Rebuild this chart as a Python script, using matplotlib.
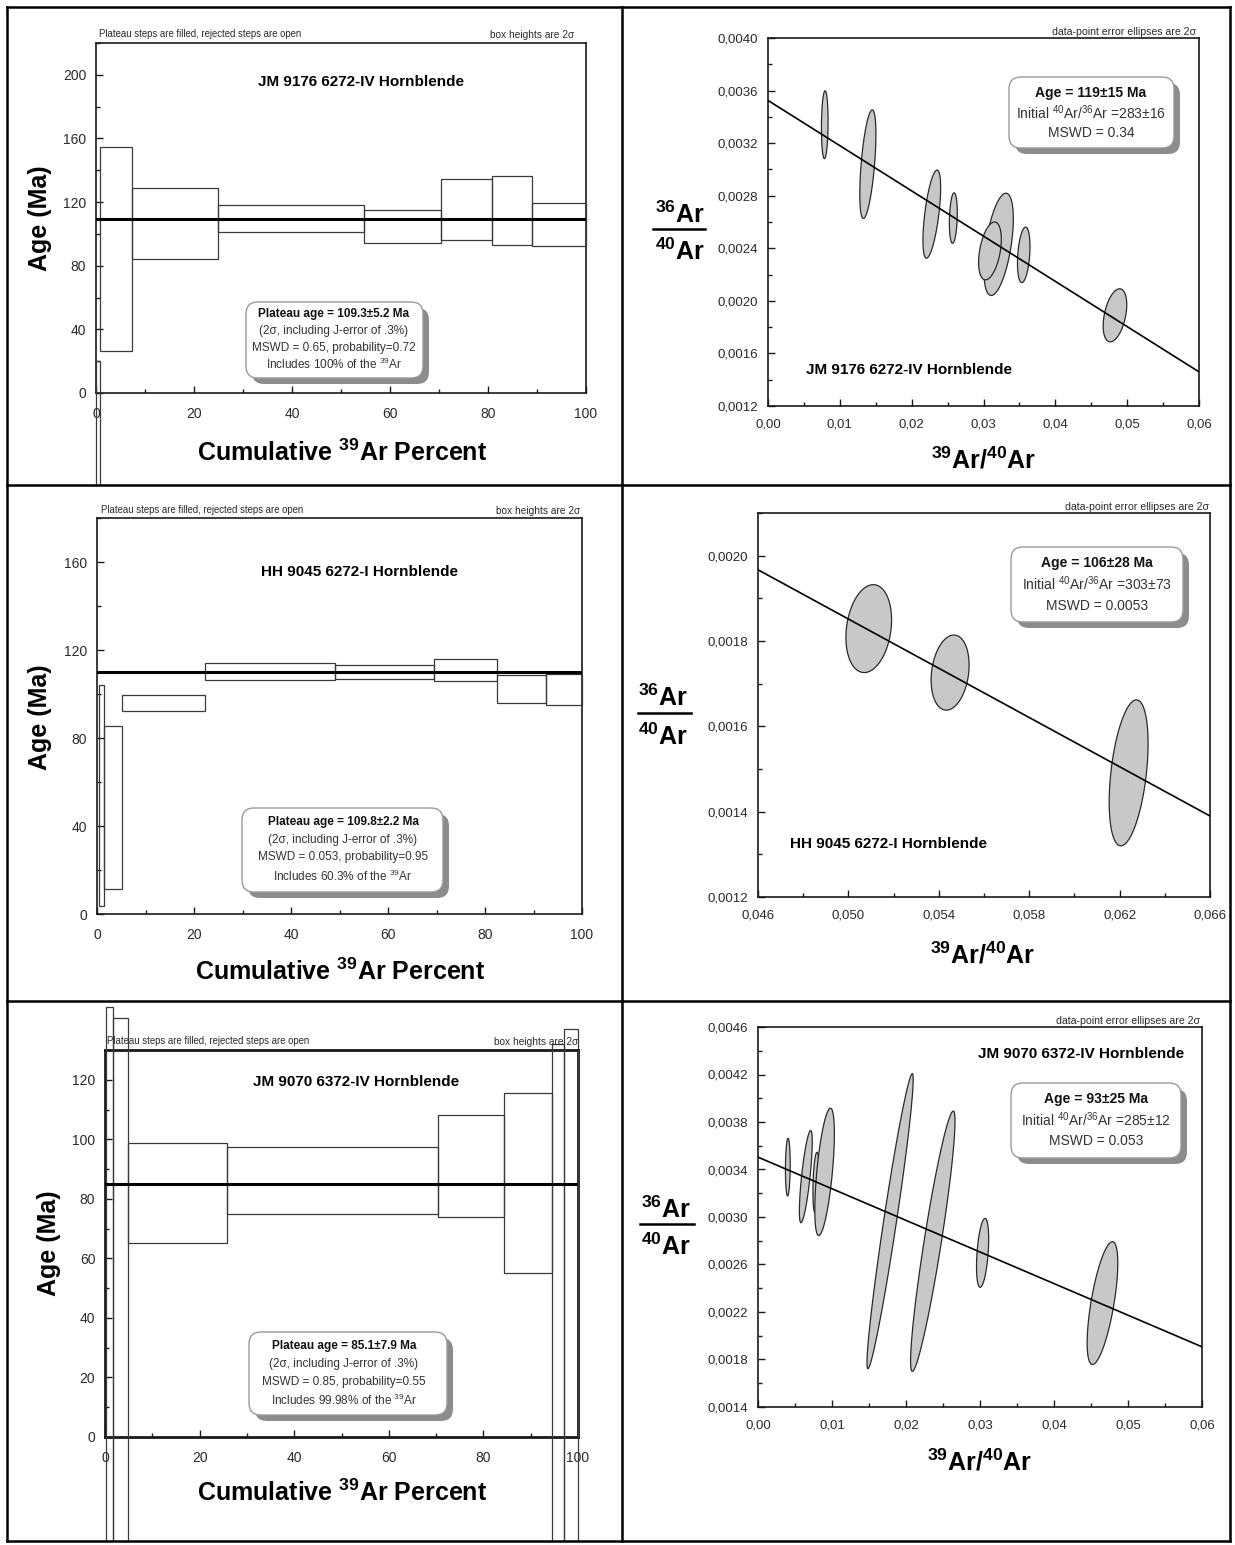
import numpy as np
import matplotlib
matplotlib.use('Agg')
import matplotlib.pyplot as plt
from matplotlib.patches import Rectangle, FancyBboxPatch
from matplotlib.lines import Line2D
from matplotlib.ticker import MultipleLocator, FuncFormatter

plt.rcParams['font.family'] = ['Liberation Sans', 'DejaVu Sans']
plt.rcParams['mathtext.default'] = 'regular'

# ============ data: step heating spectra (edges in cumulative %, ages in Ma) ============
s1_edges = [0, 0.8, 7.4, 24.8, 54.7, 70.5, 80.9, 88.9, 100]
s1_lo = [-80, 26.4, 84.3, 101.5, 94.1, 96.2, 93.1, 92.7]
s1_hi = [20, 154.4, 128.7, 118.0, 115.3, 134.3, 136.4, 119.5]
s1_plateau = 109.3

s3_edges = [0.4, 1.4, 5.1, 22.3, 49.1, 69.4, 82.4, 92.6, 100]
s3_lo = [3.6, 11.2, 92.4, 106.4, 106.9, 105.8, 95.9, 94.9]
s3_hi = [104.3, 85.6, 99.7, 114.2, 113.1, 115.7, 108.6, 109.1]
s3_plateau = 109.8

s5_edges = [0.2, 1.7, 4.8, 25.7, 70.5, 84.3, 94.4, 97.1, 100]
s5_lo = [-60, -60, 65.3, 75.0, 73.9, 55.0, -60, -60]
s5_hi = [144.5, 140.6, 98.8, 97.3, 108.1, 115.7, 132, 137]
s5_plateau = 85.1

# ============ data: isochron ellipses (centre, half widths, correlation) ============
i2_cx = [0.0079, 0.0139, 0.0228, 0.0258, 0.0321, 0.0309, 0.0356, 0.0483]
i2_cy = [0.00334, 0.00304, 0.00266, 0.00263, 0.00243, 0.00238, 0.00235, 0.00189]
i2_sx = [0.00046, 0.00112, 0.00123, 0.00055, 0.00205, 0.00158, 0.00087, 0.00164]
i2_sy = [0.000258, 0.000413, 0.000335, 0.000192, 0.000389, 0.00022, 0.000211, 0.000202]
i2_rho = [0.1, 0.55, 0.6, 0.2, 0.5, 0.4, 0.3, 0.4]
i2_line = [0.003525, -0.03442]   # intercept, slope

i4_cx = [0.0509, 0.0545, 0.0624]
i4_cy = [0.001829, 0.001726, 0.001491]
i4_sx = [0.00101, 0.00084, 0.00086]
i4_sy = [0.000103, 0.000088, 0.000171]
i4_rho = [0.2, 0.2, 0.4]
i4_line = [0.003294, -0.02885]

i6_cx = [0.00403, 0.00646, 0.00784, 0.0090, 0.01785, 0.02362, 0.03035, 0.04655]
i6_cy = [0.00342, 0.00334, 0.00329, 0.00338, 0.002965, 0.002796, 0.002698, 0.002275]
i6_sx = [0.00032, 0.00087, 0.00042, 0.00132, 0.00312, 0.0030, 0.00082, 0.00207]
i6_sy = [0.000242, 0.000388, 0.000255, 0.000536, 0.001242, 0.001096, 0.00029, 0.000517]
i6_rho = [0.1, 0.75, 0.3, 0.6, 0.96, 0.92, 0.4, 0.65]
i6_line = [0.003504, -0.02662]

W, H = 1235, 1545
fig = plt.figure(figsize=(W / 100, H / 100), dpi=100)


# pixel helpers (top-left origin like the picture)
def fx(px):
    return px / W


def fy(py):
    return 1 - py / H


def rect_px(l, t, r, b):
    return [fx(l), fy(b), fx(r) - fx(l), fy(t) - fy(b)]


def cell_clip(l, t, r, b):
    return Rectangle((fx(l), fy(b)), fx(r) - fx(l), fy(t) - fy(b), transform=fig.transFigure)


def style_axes(ax, spine_w=1.2):
    for s in ['left', 'bottom', 'top', 'right']:
        ax.spines[s].set_linewidth(spine_w)
        ax.spines[s].set_color('#1a1a1a')
    ax.tick_params(which='both', direction='in', top=False, right=False,
                   colors='#1a1a1a', labelcolor='#2a2a2a', width=1)
    ax.tick_params(which='major', length=5)
    ax.tick_params(which='minor', length=3)


def info_box(l, t, r, b, lines, ys, cx, size):
    # grey shadow then white rounded box
    off = 6
    kw = dict(boxstyle='round,pad=0,rounding_size=%f' % (12 / W), mutation_aspect=W / H,
              transform=fig.transFigure)
    sh = FancyBboxPatch((fx(l + off), fy(b + off)), fx(r) - fx(l), fy(t) - fy(b),
                        fc='#8c8c8c', ec='none', **kw)
    bx = FancyBboxPatch((fx(l), fy(b)), fx(r) - fx(l), fy(t) - fy(b),
                        fc='white', ec='#9a9a9a', lw=1.0, **kw)
    fig.add_artist(sh)
    fig.add_artist(bx)
    for i, (s, y) in enumerate(zip(lines, ys)):
        fig.text(fx(cx), fy(y), s, ha='center', va='center', fontsize=size,
                 fontweight='bold' if i == 0 else 'normal',
                 color='#111111' if i == 0 else '#333333')


# ============ age spectrum panels ============
def age_panel(pos, cell, edges, lo, hi, plateau, ylim, ymaj, ymin, spine_w=1.2):
    ax = fig.add_axes(rect_px(*pos))
    for i in range(len(lo)):
        r = Rectangle((edges[i], lo[i]), edges[i + 1] - edges[i], hi[i] - lo[i],
                      fill=False, ec='#3a3a3a', lw=0.9, zorder=3)
        ax.add_patch(r)
        r.set_clip_path(cell_clip(*cell))
    ax.axhline(plateau, color='black', lw=2.2, zorder=4)
    ax.set_xlim(0, 100)
    ax.set_ylim(*ylim)
    ax.xaxis.set_major_locator(MultipleLocator(20))
    ax.xaxis.set_minor_locator(MultipleLocator(10))
    ax.yaxis.set_major_locator(MultipleLocator(ymaj))
    ax.yaxis.set_minor_locator(MultipleLocator(ymin))
    style_axes(ax, spine_w)
    ax.tick_params(axis='y', pad=7, labelsize=10)
    ax.tick_params(axis='x', pad=10, labelsize=10)
    return ax


def age_texts(hl, hr, title, tpos, ylab, xlab):
    fig.text(fx(hl[0]), fy(hl[1]), 'Plateau steps are filled, rejected steps are open',
             fontsize=6.9, color='#2a2a2a', va='center', ha='left')
    fig.text(fx(hr[0]), fy(hr[1]), 'box heights are 2σ',
             fontsize=7.3, color='#2a2a2a', va='center', ha='right')
    fig.text(fx(tpos[0]), fy(tpos[1]), title, fontsize=11, fontweight='bold',
             ha='center', va='center')
    fig.text(fx(ylab[0]), fy(ylab[1]), 'Age (Ma)', fontsize=18, fontweight='bold',
             rotation=90, ha='center', va='center')
    fig.text(fx(xlab[0]), fy(xlab[1]), 'Cumulative $^{39}$Ar Percent', fontsize=18,
             fontweight='bold', ha='center', va='center')


def plateau_lines(age, mswd, prob, incl):
    return ['Plateau age = %s Ma' % age,
            '(2σ, including J-error of .3%)',
            'MSWD = %s, probability=%s' % (mswd, prob),
            'Includes %s of the $^{39}$Ar' % incl]


# ============ isochron panels ============
def iso_panel(pos, xlim, ylim, xmaj, xmin, ymaj, ymin, xdec, cx, cy, sx, sy, rho, line):
    ax = fig.add_axes(rect_px(*pos))
    t = np.linspace(0, 2 * np.pi, 240)
    for i in range(len(cx)):
        xs = cx[i] + sx[i] * np.cos(t)
        ys = cy[i] + sy[i] * (rho[i] * np.cos(t) + np.sqrt(1 - rho[i] ** 2) * np.sin(t))
        ax.fill(xs, ys, fc='#c8c8c8', ec='#2a2a2a', lw=0.9, zorder=2)
    xl = np.array(xlim)
    ax.plot(xl, line[0] + line[1] * xl, color='black', lw=1.2, zorder=3)
    ax.set_xlim(*xlim)
    ax.set_ylim(*ylim)
    # ticks start at the lower axis limit
    ax.xaxis.set_major_locator(MultipleLocator(xmaj, offset=xlim[0] % xmaj))
    ax.xaxis.set_minor_locator(MultipleLocator(xmin, offset=xlim[0] % xmin))
    ax.yaxis.set_major_locator(MultipleLocator(ymaj, offset=round(ylim[0] % ymaj, 6)))
    ax.yaxis.set_minor_locator(MultipleLocator(ymin, offset=round(ylim[0] % ymin, 6)))
    ax.xaxis.set_major_formatter(FuncFormatter(lambda v, p: ('%.*f' % (xdec, v)).replace('.', ',')))
    ax.yaxis.set_major_formatter(FuncFormatter(lambda v, p: ('%.4f' % v).replace('.', ',')))
    style_axes(ax)
    ax.tick_params(axis='y', pad=7, labelsize=9.5)
    ax.tick_params(axis='x', pad=9, labelsize=9.5)
    return ax


def iso_texts(hr, label, lpos, lha, num, frac_line, den, xlab):
    fig.text(fx(hr[0]), fy(hr[1]), 'data-point error ellipses are 2σ',
             fontsize=7.6, color='#2a2a2a', va='center', ha='right')
    fig.text(fx(lpos[0]), fy(lpos[1]), label, fontsize=11, fontweight='bold',
             ha=lha, va='center')
    fig.text(fx(num[0]), fy(num[1]), '$^{36}$Ar', fontsize=18, fontweight='bold',
             ha='center', va='center')
    fig.text(fx(den[0]), fy(den[1]), '$^{40}$Ar', fontsize=18, fontweight='bold',
             ha='center', va='center')
    fig.add_artist(Line2D([fx(frac_line[0]), fx(frac_line[1])], [fy(frac_line[2])] * 2,
                          color='black', lw=1.8, transform=fig.transFigure))
    fig.text(fx(xlab[0]), fy(xlab[1]), '$^{39}$Ar/$^{40}$Ar', fontsize=18,
             fontweight='bold', ha='center', va='center')


def iso_lines(age, r0, mswd):
    return ['Age = %s Ma' % age,
            'Initial $^{40}$Ar/$^{36}$Ar =%s' % r0,
            'MSWD = %s' % mswd]


# ----- row 1 -----
age_panel((96, 43, 586, 393), (7, 7, 622, 485), s1_edges, s1_lo, s1_hi, s1_plateau,
          (0, 220), 40, 20)
age_texts((99, 34), (574, 35), 'JM 9176 6272-IV Hornblende', (361, 82), (40, 218), (342, 453))
info_box(246, 302, 423, 378, plateau_lines('109.3±5.2', '0.65', '0.72', '100%'),
         [314, 331, 348, 364], 334, 8.5)

iso_panel((768, 38, 1199, 406), (0, 0.06), (0.0012, 0.0040), 0.01, 0.005, 0.0004, 0.0002, 2,
          i2_cx, i2_cy, i2_sx, i2_sy, i2_rho, i2_line)
iso_texts((1196, 32), 'JM 9176 6272-IV Hornblende', (806, 370), 'left',
          (680, 215), (653, 705, 229), (680, 252), (983, 460))
info_box(1009, 77, 1174, 148, iso_lines('119±15', '283±16', '0.34'), [93, 113, 133], 1091, 10)

# ----- row 2 -----
age_panel((97, 518, 582, 914), (7, 485, 622, 1001), s3_edges, s3_lo, s3_hi, s3_plateau,
          (0, 180), 40, 20)
age_texts((101, 510), (580, 511), 'HH 9045 6272-I Hornblende', (360, 572), (40, 717), (340, 972))
info_box(242, 808, 443, 892, plateau_lines('109.8±2.2', '0.053', '0.95', '60.3%'),
         [822, 840, 857, 876], 343, 8.5)

iso_panel((758, 513, 1210, 897), (0.046, 0.066), (0.0012, 0.0021), 0.004, 0.002, 0.0002, 0.0001, 3,
          i4_cx, i4_cy, i4_sx, i4_sy, i4_rho, i4_line)
iso_texts((1209, 507), 'HH 9045 6272-I Hornblende', (790, 844), 'left',
          (663, 698), (638, 691, 713), (663, 737), (982, 955))
info_box(1011, 547, 1183, 622, iso_lines('106±28', '303±73', '0.0053'), [563, 584, 606], 1097, 10)

# ----- row 3 -----
age_panel((105, 1050, 578, 1437), (7, 1001, 622, 1541), s5_edges, s5_lo, s5_hi, s5_plateau,
          (0, 130), 20, 10, spine_w=2.0)
age_texts((107, 1041), (578, 1042), 'JM 9070 6372-IV Hornblende', (356, 1082), (49, 1243), (342, 1493))
info_box(249, 1332, 447, 1415, plateau_lines('85.1±7.9', '0.85', '0.55', '99.98%'),
         [1346, 1364, 1382, 1400], 344, 8.5)

iso_panel((758, 1027, 1202, 1407), (0, 0.06), (0.0014, 0.0046), 0.01, 0.005, 0.0004, 0.0002, 2,
          i6_cx, i6_cy, i6_sx, i6_sy, i6_rho, i6_line)
iso_texts((1200, 1021), 'JM 9070 6372-IV Hornblende', (1184, 1054), 'right',
          (666, 1210), (640, 694, 1224), (666, 1247), (979, 1462))
info_box(1011, 1083, 1181, 1158, iso_lines('93±25', '285±12', '0.053'), [1099, 1120, 1141], 1096, 10)

# ============ table grid around the six panels ============
grid = [((7, 7), (7, 1541)), ((622, 622), (7, 1541)), ((1230, 1230), (7, 1541)),
        ((7, 1230), (7, 7)), ((7, 1230), (485, 485)), ((7, 1230), (1001, 1001)),
        ((7, 1230), (1541, 1541))]
for xs, ys in grid:
    fig.add_artist(Line2D([fx(v) for v in xs], [fy(v) for v in ys], color='black',
                          lw=1.8, transform=fig.transFigure))

fig.savefig('out.png', dpi=100)
